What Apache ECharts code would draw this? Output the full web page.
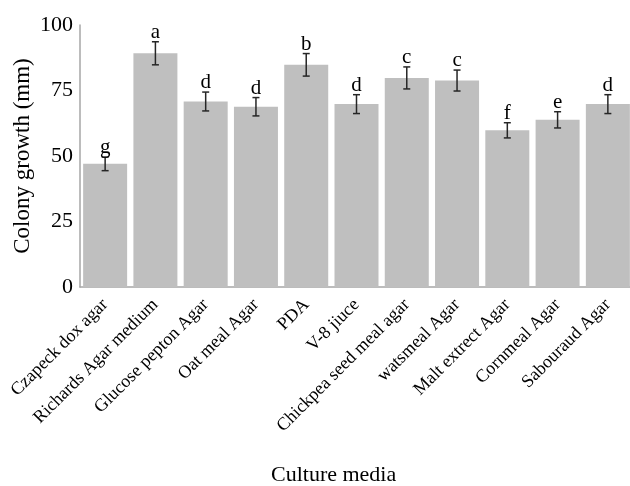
<!DOCTYPE html>
<html>
<head>
<meta charset="utf-8">
<script src="https://cdn.jsdelivr.net/npm/echarts@6/dist/echarts.min.js"></script>
<style>html,body{margin:0;padding:0;background:#fff;}#c{width:630px;height:486px;}</style>
</head>
<body>
<div id="c"></div>
<script>
var categories = ["Czapeck dox agar","Richards Agar medium","Glucose pepton Agar","Oat meal Agar","PDA","V-8 jiuce","Chickpea seed meal agar","watsmeal Agar","Malt extrect Agar","Cornmeal Agar","Sabouraud Agar"];
var growth = [47, 89.2, 70.8, 68.8, 84.8, 69.8, 79.8, 78.8, 59.8, 63.8, 69.8];
var errors = [2.6, 4.4, 3.6, 3.5, 4.3, 3.6, 4.2, 4.0, 2.9, 3.1, 3.6];
var letters = ["g","a","d","d","b","d","c","c","f","e","d"];
var yTicks = [0, 25, 50, 75, 100];

var FONT = "'Liberation Serif','Times New Roman',serif";
var chart = echarts.init(document.getElementById('c'), null, {renderer: 'canvas'});
var errData = growth.map(function (v, i) { return [i, v, errors[i]]; });

chart.setOption({
  animation: false,
  grid: {left: 80, right: -3, top: 25, bottom: 199, containLabel: false, outerBoundsMode: 'none'},
  xAxis: {
    type: 'category',
    data: categories,
    axisLine: {show: true, lineStyle: {color: '#A6A6A6', width: 1.5}},
    axisTick: {show: false},
    axisLabel: {interval: 0, rotate: 45, fontFamily: FONT, fontSize: 18, color: '#000', margin: 15}
  },
  yAxis: {
    type: 'value',
    min: yTicks[0], max: yTicks[yTicks.length - 1], interval: 25,
    name: 'Colony growth (mm)',
    nameLocation: 'middle',
    nameGap: 46,
    nameMoveOverlap: false,
    nameTextStyle: {fontFamily: FONT, fontSize: 23, color: '#000'},
    axisLine: {show: true, lineStyle: {color: '#A6A6A6', width: 1.5}},
    axisTick: {show: false},
    splitLine: {show: false},
    axisLabel: {fontFamily: FONT, fontSize: 22, color: '#000', margin: 7}
  },
  graphic: [{
    type: 'text', left: 271, top: 464,
    style: {text: 'Culture media', font: '22px ' + FONT, fill: '#000'}
  }],
  series: [
    {
      type: 'bar',
      data: growth,
      barWidth: 44,
      itemStyle: {color: '#BFBFBF'},
      z: 1
    },
    {
      type: 'custom',
      data: errData,
      encode: {x: 0, y: 1},
      z: 5,
      renderItem: function (params, api) {
        var i = api.value(0), v = api.value(1), e = api.value(2);
        var top = api.coord([i, v + e]);
        var bot = api.coord([i, v - e]);
        var hw = 3.5;
        var st = {stroke: '#262626', lineWidth: 1.5};
        return {
          type: 'group',
          children: [
            {type: 'line', shape: {x1: top[0], y1: top[1], x2: bot[0], y2: bot[1]}, style: st},
            {type: 'line', shape: {x1: top[0] - hw, y1: top[1], x2: top[0] + hw, y2: top[1]}, style: st},
            {type: 'line', shape: {x1: bot[0] - hw, y1: bot[1], x2: bot[0] + hw, y2: bot[1]}, style: st},
            {type: 'text', x: top[0], y: top[1] + 1,
              style: {text: letters[params.dataIndex], font: '21px ' + FONT, fill: '#000', textAlign: 'center', textVerticalAlign: 'bottom'}}
          ]
        };
      }
    }
  ]
});
</script>
</body>
</html>
